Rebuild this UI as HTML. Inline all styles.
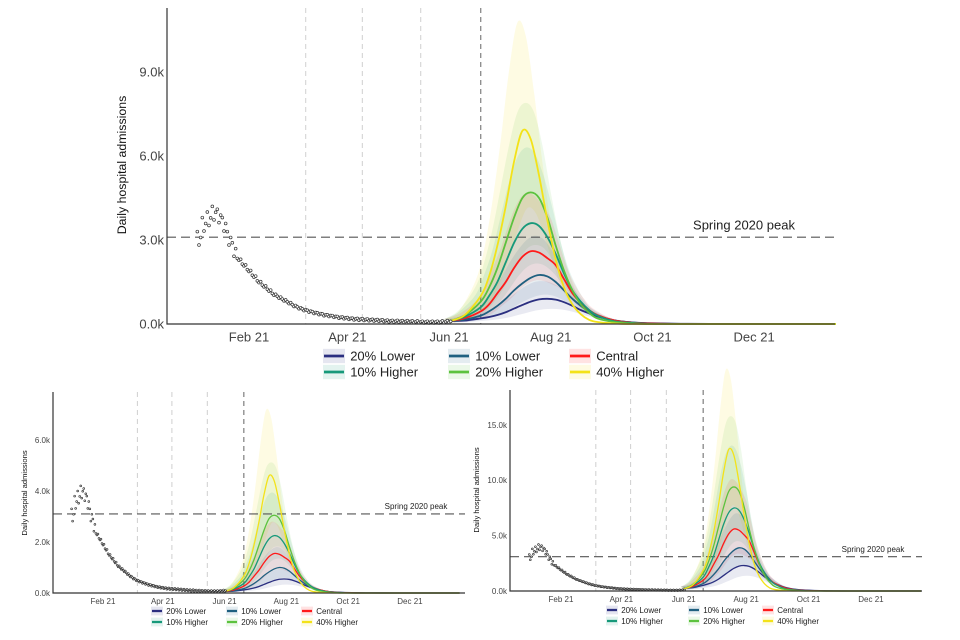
<!DOCTYPE html>
<html><head><meta charset="utf-8"><style>
html,body{margin:0;padding:0;background:#fff;width:960px;height:640px;overflow:hidden}
svg{position:absolute;left:0;top:0}
text{font-family:"Liberation Sans",sans-serif}
</style></head><body>
<svg id="chart" width="960" height="640"></svg>
<script>
// ---- data ----
const seriesNames = ["20% Lower","10% Lower","Central","10% Higher","20% Higher","40% Higher"];
const projDays = [151,160,170,175,180,185,190,195,200,205,210,215,220,225,230,235,240,250,260,270,290,320,383];
const s20Lower = [0.1,0.12,0.2,0.25,0.32,0.42,0.55,0.68,0.8,0.88,0.9,0.87,0.78,0.65,0.5,0.38,0.27,0.13,0.06,0.03,0.01,0,0];
const s10Lower = [0.1,0.15,0.3,0.45,0.65,0.9,1.2,1.45,1.65,1.75,1.7,1.5,1.2,0.9,0.65,0.45,0.3,0.13,0.06,0.02,0,0,0];
const sCentral = [0.1,0.2,0.45,0.7,1.1,1.5,2.0,2.4,2.6,2.55,2.35,2.1,1.6,1.1,0.75,0.5,0.32,0.13,0.05,0.02,0,0,0];
const s10Higher = [0.1,0.25,0.6,1.0,1.5,2.2,2.9,3.4,3.6,3.5,3.1,2.5,1.8,1.2,0.8,0.5,0.3,0.1,0.04,0.01,0,0,0];
const s20Higher = [0.1,0.3,0.8,1.3,2.0,2.9,3.8,4.5,4.7,4.5,3.8,2.8,1.9,1.2,0.7,0.4,0.2,0.07,0.02,0,0,0,0];
const s40Higher = [0.1,0.3,1.0,1.7,2.8,4.2,5.8,6.9,6.6,5.3,3.7,2.3,1.3,0.7,0.35,0.15,0.07,0.02,0,0,0,0,0];
const bandHiRatio = [1.7,1.8,1.8,1.75,1.68,1.56];
const bandLoRatio = [0.6,0.6,0.6,0.6,0.6,0.6];
const peaksTop = [0.9,1.75,2.6,3.6,4.7,6.9];
const peaksBL = [0.55,1.0,1.55,2.25,3.05,4.6];
const peaksBR = [2.3,3.9,5.6,7.5,9.4,12.8];
const obsDays = [0,3,6,9,12,15,18,21,24,27,30,33,36,39,42,45,48,51,54,57,60,63,66,69,72,75,78,81,84,87,90,93,96,99,102,105,108,111,114,117,120,123,126,129,132,135,138,141,144,147,150];
const obsValues = [3.0,3.5,3.7,3.9,3.8,3.5,3.0,2.6,2.3,2.1,1.9,1.7,1.5,1.35,1.2,1.05,0.95,0.85,0.75,0.65,0.57,0.5,0.45,0.4,0.36,0.32,0.29,0.26,0.23,0.21,0.19,0.17,0.16,0.15,0.14,0.13,0.12,0.11,0.1,0.09,0.09,0.08,0.08,0.07,0.07,0.06,0.06,0.06,0.06,0.07,0.08];
const springPeak = 3.1;
const monthTicks = ["Feb 21","Apr 21","Jun 21","Aug 21","Oct 21","Dec 21"];
const monthDays = [31,90,151,212,273,334];
const stepDays = [65,99,134,170];
const yTicksTop = [0,3,6,9];
const yTicksBL = [0,2,4,6];
const yTicksBR = [0,5,10,15];
// ---- rendering ----
const colors = ["#2b2f80","#1f6080","#ff1a1a","#17997a","#5cc23e","#f3e219"];
const shapes = [s20Lower,s10Lower,sCentral,s10Higher,s20Higher,s40Higher];
const NS="http://www.w3.org/2000/svg";
const svg=document.getElementById('chart');
function mk(tag,attrs,parent){const e=document.createElementNS(NS,tag);for(const k in attrs)e.setAttribute(k,attrs[k]);(parent||svg).appendChild(e);return e;}
function smooth(pts){let d="M"+pts[0][0]+","+pts[0][1];for(let i=0;i<pts.length-1;i++){const p0=pts[Math.max(0,i-1)],p1=pts[i],p2=pts[i+1],p3=pts[Math.min(pts.length-1,i+2)];const c1x=p1[0]+(p2[0]-p0[0])/6,c1y=p1[1]+(p2[1]-p0[1])/6,c2x=p2[0]-(p3[0]-p1[0])/6,c2y=p2[1]-(p3[1]-p1[1])/6;d+=" C"+c1x+","+c1y+" "+c2x+","+c2y+" "+p2[0]+","+p2[1];}return d;}
function panel(g){
  const grp=mk('g',{});
  
  
  const X=d=>g.x0+(d-31)*g.pxd, Y=v=>g.yb-v*g.pyk;
  const bottom=Y(0);
  stepDays.forEach((d,i)=>{const l=mk('line',{x1:X(d),x2:X(d),y1:g.top,y2:bottom,stroke:i==3?'#888':'#d4d4d4','stroke-width':i==3?1.3:1.1,'stroke-dasharray':'5,4'},grp);
    
    });
  const scale=s=>g.peaks[s]/peaksTop[s];
  for(let s=5;s>=0;s--){
    const up=projDays.map((d,i)=>[X(d-3),Y(shapes[s][i]*scale(s)*bandHiRatio[s])]);
    const lo=projDays.map((d,i)=>[X(d+3),Y(shapes[s][i]*scale(s)*bandLoRatio[s])]).reverse();
    const p=mk('path',{d:smooth(up)+" L"+smooth(lo).slice(1)+" Z",fill:colors[s],'fill-opacity':s==5?0.12:0.1,stroke:'none'},grp);
    
    
  }
  const sp=mk('line',{x1:g.x0l,x2:g.xr,y1:Y(springPeak),y2:Y(springPeak),stroke:'#555','stroke-width':1.2,'stroke-dasharray':'9,5'},grp);
  
  
  const st=mk('text',{x:g.spx,y:Y(springPeak)-g.fs*0.6,'font-size':g.fs,fill:'#222','text-anchor':'middle'},grp);st.textContent="Spring 2020 peak";
  
  
  [0,1,2,3,4,5].forEach(s=>{
    const pts=projDays.map((d,i)=>[X(d),Y(shapes[s][i]*scale(s))]);
    const p=mk('path',{d:smooth(pts),fill:'none',stroke:colors[s],'stroke-width':g.lw},grp);
    
    
  });
  obsDays.forEach((d,i)=>{
    const big=obsValues[i]>2.5;
    const offs=[[0,1],[1,-0.6],[2,0.3]];
    offs.forEach(o=>{
      const jitter=o[1]*(big?0.3:0.04);
      const c=mk('circle',{cx:X(d+o[0]),cy:Y(obsValues[i]+jitter),r:g.r,fill:'#fff',stroke:'#333','stroke-width':0.7},grp);
      
      
    });
  });
  const ax=mk('path',{d:`M${g.x0l},${g.top} V${bottom} H${g.xr}`,fill:'none',stroke:'#333','stroke-width':1.2},grp);
  
  
  g.yt.forEach(v=>{const t=mk('text',{x:g.x0l-3,y:Y(v)+g.fs*0.35,'font-size':g.fs,fill:'#444','text-anchor':'end'},grp);t.textContent=v.toFixed(1)+"k";
    
    });
  monthTicks.forEach((m,i)=>{const t=mk('text',{x:X(monthDays[i]),y:bottom+g.fs*1.35,'font-size':g.fs,fill:'#444','text-anchor':'middle'},grp);t.textContent=m;
    
    });
  const yl=mk('text',{x:0,y:0,'font-size':g.fs*0.95,fill:'#111','text-anchor':'middle',transform:`translate(${g.ylx},${g.yly}) rotate(-90)`},grp);yl.textContent="Daily hospital admissions";
  
  
  seriesNames.forEach((n,s)=>{const row=s<3?0:1;
    const colIdx=s<3?s:s-3;
    const kx=g.lgx[colIdx],ky=g.lgy[row];
    const it=mk('g',{},grp);
    
    
    mk('rect',{x:kx,y:ky-g.fs*0.55,width:g.kw,height:g.fs*1.1,fill:colors[s],'fill-opacity':0.12},it);
    mk('line',{x1:kx+1,x2:kx+g.kw-1,y1:ky,y2:ky,stroke:colors[s],'stroke-width':g.lw+1},it);
    const t=mk('text',{x:kx+g.kw+g.fs*0.4,y:ky+g.fs*0.36,'font-size':g.fs,fill:'#222'},it);t.textContent=n;
  });
}
panel({name:'top-chart',x0:249,pxd:1.667,yb:324,pyk:28,top:8,x0l:167,xr:835,fs:13,lw:1.8,r:1.4,peaks:peaksTop,yt:yTicksTop,spx:744,ylx:126,yly:165,lgx:[323,448,569],lgy:[356,372],kw:22});
panel({name:'bottom-left-chart',x0:103,pxd:1.013,yb:593,pyk:25.5,top:392,x0l:53,xr:465,fs:8,lw:1.3,r:0.9,peaks:peaksBL,yt:yTicksBL,spx:416,ylx:27,yly:493,lgx:[151,226,301],lgy:[611,622],kw:12});
panel({name:'bottom-right-chart',x0:561,pxd:1.023,yb:591,pyk:11.07,top:390,x0l:510,xr:922,fs:8,lw:1.3,r:0.9,peaks:peaksBR,yt:yTicksBR,spx:873,ylx:479,yly:490,lgx:[606,688,762],lgy:[610,621],kw:12});
</script>
</body></html>
